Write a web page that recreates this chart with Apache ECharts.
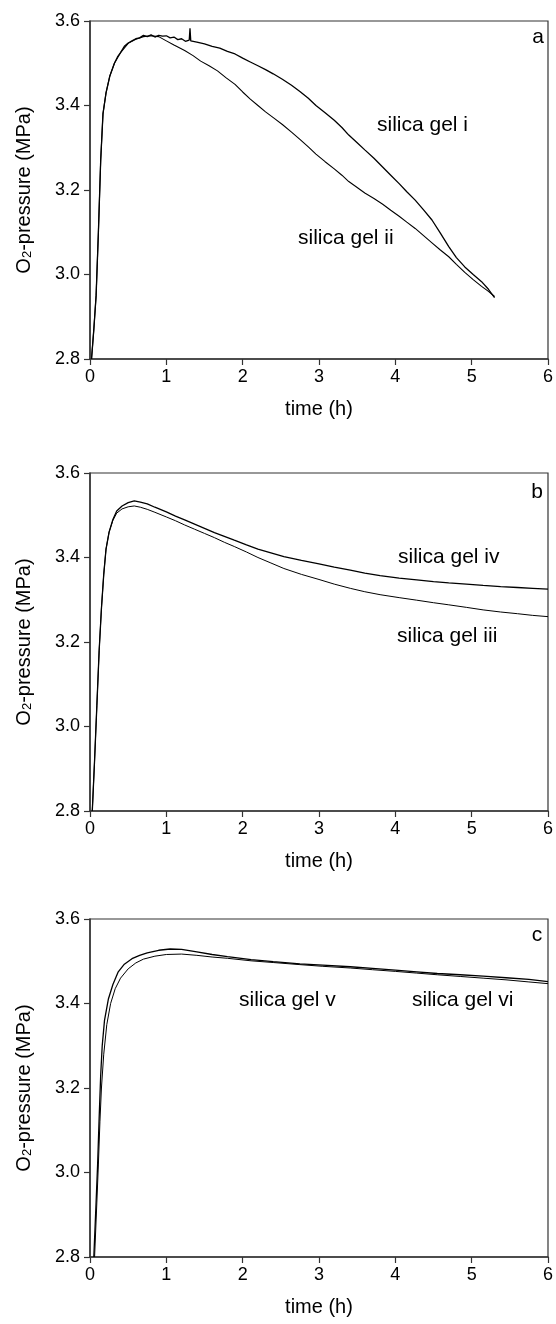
<!DOCTYPE html>
<html><head><meta charset="utf-8">
<script src="https://cdn.jsdelivr.net/npm/echarts@6/dist/echarts.min.js"></script>
<style>html,body{margin:0;padding:0;background:#fff}#c{width:556px;height:1324px}</style>
</head><body><div id="c"></div>
<script>
// ---- data (time in h, O2 pressure in MPa) ----
const xTicks = [0,1,2,3,4,5,6];
const yTicks = [2.8,3.0,3.2,3.4,3.6];
const panelLetters = ['a','b','c'];

const tGelI = [0.02,0.05,0.08,0.11,0.14,0.17,0.21,0.26,0.32,0.36,0.40,0.45,0.50,0.55,0.60,0.65,0.70,0.75,0.80,0.85,0.90,0.95,1.00,1.05,1.10,1.15,1.20,1.25,1.30,1.31,1.32,1.40,1.50,1.60,1.70,1.80,1.90,2.00,2.10,2.20,2.30,2.40,2.52,2.64,2.75,2.86,2.96,3.08,3.20,3.30,3.39,3.50,3.60,3.72,3.83,3.94,4.05,4.15,4.26,4.37,4.48,4.59,4.70,4.80,4.91,5.02,5.13,5.22,5.30];
const pGelI = [2.80,2.87,2.95,3.10,3.27,3.38,3.43,3.47,3.50,3.515,3.525,3.54,3.548,3.553,3.558,3.56,3.566,3.563,3.567,3.562,3.566,3.564,3.565,3.560,3.562,3.556,3.558,3.552,3.555,3.583,3.553,3.550,3.546,3.540,3.536,3.528,3.522,3.512,3.503,3.494,3.485,3.475,3.462,3.448,3.433,3.417,3.400,3.383,3.365,3.348,3.330,3.312,3.295,3.275,3.255,3.235,3.215,3.196,3.176,3.153,3.129,3.098,3.066,3.040,3.018,3.000,2.983,2.965,2.945];

const tGelII = [0.02,0.05,0.08,0.11,0.14,0.17,0.21,0.26,0.32,0.40,0.50,0.60,0.70,0.80,0.90,1.00,1.10,1.24,1.35,1.45,1.56,1.67,1.78,1.90,2.00,2.10,2.20,2.30,2.41,2.52,2.64,2.75,2.86,2.96,3.08,3.20,3.30,3.39,3.50,3.60,3.72,3.83,3.94,4.05,4.15,4.26,4.37,4.48,4.59,4.70,4.80,4.91,5.02,5.13,5.22,5.30];
const pGelII = [2.80,2.87,2.95,3.10,3.27,3.38,3.43,3.47,3.50,3.525,3.547,3.557,3.563,3.565,3.563,3.553,3.543,3.530,3.518,3.505,3.494,3.482,3.466,3.450,3.432,3.415,3.400,3.385,3.370,3.355,3.337,3.320,3.302,3.285,3.267,3.250,3.235,3.220,3.206,3.193,3.180,3.167,3.152,3.138,3.124,3.109,3.092,3.075,3.058,3.042,3.024,3.005,2.988,2.972,2.960,2.948];

const tGelIV = [0.03,0.06,0.09,0.12,0.15,0.18,0.21,0.25,0.30,0.35,0.42,0.50,0.58,0.66,0.75,0.85,1.00,1.12,1.24,1.37,1.50,1.63,1.76,1.89,2.05,2.20,2.37,2.54,2.77,3.00,3.20,3.41,3.60,3.80,4.05,4.28,4.50,4.70,4.93,5.15,5.38,5.60,5.80,6.00];
const pGelIV = [2.80,2.92,3.05,3.18,3.28,3.36,3.42,3.46,3.49,3.51,3.522,3.530,3.534,3.531,3.527,3.519,3.508,3.498,3.489,3.479,3.469,3.459,3.450,3.441,3.430,3.420,3.411,3.402,3.393,3.385,3.377,3.370,3.363,3.357,3.351,3.347,3.343,3.340,3.337,3.334,3.331,3.329,3.327,3.325];

const tGelIII = [0.03,0.06,0.09,0.12,0.15,0.18,0.21,0.25,0.30,0.35,0.42,0.50,0.58,0.66,0.75,0.85,1.00,1.12,1.24,1.37,1.50,1.63,1.76,1.89,2.05,2.20,2.37,2.54,2.77,3.00,3.20,3.41,3.60,3.80,4.05,4.28,4.50,4.70,4.93,5.15,5.38,5.60,5.80,6.00];
const pGelIII = [2.80,2.92,3.05,3.18,3.28,3.36,3.42,3.46,3.488,3.505,3.515,3.520,3.522,3.519,3.514,3.507,3.496,3.487,3.477,3.467,3.457,3.447,3.436,3.426,3.413,3.400,3.387,3.374,3.360,3.348,3.337,3.327,3.319,3.312,3.305,3.299,3.293,3.288,3.282,3.276,3.271,3.267,3.263,3.260];

const tGelVI = [0.05,0.08,0.10,0.12,0.14,0.16,0.19,0.24,0.30,0.37,0.45,0.55,0.65,0.75,0.90,1.05,1.20,1.40,1.60,1.80,2.11,2.40,2.75,3.05,3.41,3.70,4.00,4.28,4.55,4.85,5.15,5.45,5.75,6.00];
const pGelVI = [2.80,2.93,3.02,3.13,3.23,3.30,3.36,3.41,3.445,3.475,3.493,3.506,3.514,3.520,3.526,3.529,3.528,3.522,3.516,3.511,3.504,3.499,3.494,3.491,3.487,3.483,3.479,3.475,3.471,3.468,3.465,3.461,3.457,3.452];

const tGelV = [0.06,0.09,0.11,0.13,0.15,0.18,0.22,0.27,0.33,0.40,0.50,0.60,0.70,0.85,1.00,1.20,1.40,1.60,1.80,2.11,2.40,2.75,3.05,3.41,3.70,4.00,4.28,4.55,4.85,5.15,5.45,5.75,6.00];
const pGelV = [2.80,2.93,3.02,3.12,3.20,3.28,3.35,3.40,3.435,3.460,3.482,3.496,3.505,3.512,3.516,3.517,3.514,3.510,3.507,3.501,3.497,3.492,3.488,3.484,3.480,3.476,3.472,3.468,3.464,3.460,3.456,3.451,3.447];

const curveLabels = ['silica gel i','silica gel ii','silica gel iv','silica gel iii','silica gel v','silica gel vi'];

// ---- chart ----
const zip = (t,p) => t.map((v,i)=>[v,p[i]]);
const FONT = 'Liberation Sans, Arial, Helvetica, sans-serif';
const gridTops = [21, 473, 919];
const grids = gridTops.map(top => ({left:90, top:top, width:460, height:338, show:true, borderColor:'#333', borderWidth:1.2, backgroundColor:'transparent'}));

const xAxes = gridTops.map((_,i)=>({
  type:'value', gridIndex:i, min:xTicks[0], max:xTicks[xTicks.length-1], interval:1,
  axisLine:{show:true,onZero:false,lineStyle:{color:'#333',width:1.5}},
  axisTick:{show:true,inside:false,length:6,lineStyle:{color:'#333',width:1.2}},
  splitLine:{show:false},
  axisLabel:{color:'#000',fontSize:18,fontFamily:FONT,margin:9},
  name:'time (h)', nameLocation:'middle', nameGap:40,
  nameTextStyle:{color:'#000',fontSize:20,fontFamily:FONT}
}));
const yAxes = gridTops.map((_,i)=>({
  type:'value', gridIndex:i, min:yTicks[0], max:yTicks[yTicks.length-1], interval:0.2,
  axisLine:{show:true,onZero:false,lineStyle:{color:'#333',width:1.5}},
  axisTick:{show:true,inside:false,length:6,lineStyle:{color:'#333',width:1.2}},
  splitLine:{show:false},
  axisLabel:{color:'#000',fontSize:18,fontFamily:FONT,margin:10,formatter:v=>v.toFixed(1)},
  name:'{n|O}{s|2}{n|-pressure (MPa)}', nameLocation:'middle', nameGap:56,
  nameTextStyle:{color:'#000',fontFamily:FONT,
    rich:{n:{fontSize:20,fontFamily:FONT,color:'#000',lineHeight:20,verticalAlign:'top'},
          s:{fontSize:13,fontFamily:FONT,color:'#000',lineHeight:12,padding:[10,0,0,0],verticalAlign:'bottom'}}}
}));

function line(i,t,p,w){
  return {type:'line',xAxisIndex:i,yAxisIndex:i,data:zip(t,p),showSymbol:false,symbol:'none',
    lineStyle:{color:'#000',width:w},silent:true,animation:false,clip:true};
}
const series = [
  line(0,tGelI,pGelI,1.3), line(0,tGelII,pGelII,1.1),
  line(1,tGelIV,pGelIV,1.3), line(1,tGelIII,pGelIII,1.0),
  line(2,tGelVI,pGelVI,1.3), line(2,tGelV,pGelV,1.0)
];

const txt = (s,x,y,align) => ({type:'text',x:x,y:y,silent:true,
  style:{text:s,fill:'#000',font:'21px '+FONT,textAlign:align||'left',textVerticalAlign:'middle'}});
const graphic = [
  txt(panelLetters[0],538,37,'center'), txt(panelLetters[1],537,492,'center'), txt(panelLetters[2],537,935,'center'),
  txt(curveLabels[0],377,125), txt(curveLabels[1],298,238),
  txt(curveLabels[2],398,557), txt(curveLabels[3],397,636),
  txt(curveLabels[4],239,1000), txt(curveLabels[5],412,1000)
];

const chart = echarts.init(document.getElementById('c'),null,{renderer:'canvas'});
chart.setOption({animation:false,backgroundColor:'#fff',grid:grids,xAxis:xAxes,yAxis:yAxes,series:series,graphic:graphic});
</script></body></html>
